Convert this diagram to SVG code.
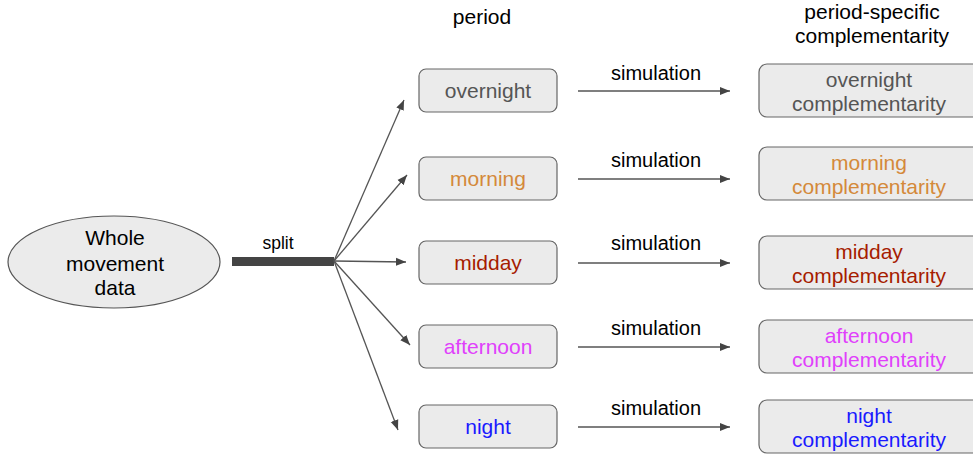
<svg xmlns="http://www.w3.org/2000/svg" width="973" height="455" viewBox="0 0 973 455">
<defs>
<marker id="ah" viewBox="0 0 10 10" refX="10" refY="5" markerWidth="10" markerHeight="10" markerUnits="userSpaceOnUse" orient="auto">
<path d="M0,1 L10,5 L0,9 z" fill="#444"/>
</marker>
<style>
text{font-family:"Liberation Sans",Arial,sans-serif;text-anchor:middle;}
.box{fill:#ebebeb;stroke:#666;stroke-width:1.2;}
.lbl{font-size:21px;}
.hdr{font-size:21px;fill:#000;}
.sim{font-size:20px;fill:#000;}
.con{stroke:#555;stroke-width:1.3;fill:none;marker-end:url(#ah);}
</style>
</defs>
<rect width="973" height="455" fill="#fff"/>
<text class="hdr" x="482" y="24">period</text>
<text class="hdr" x="872" y="19">period-specific</text>
<text class="hdr" x="872" y="43">complementarity</text>
<g id="whole">
<ellipse cx="114" cy="262" rx="106" ry="46" fill="#ebebeb" stroke="#555" stroke-width="1.2"/>
<text class="lbl" x="115" y="245">Whole</text>
<text class="lbl" x="115" y="271">movement</text>
<text class="lbl" x="115" y="295">data</text>
</g>
<g id="split">
<rect x="232" y="257" width="102" height="9" fill="#444"/>
<text x="278" y="249" font-size="17.5" fill="#000">split</text>
</g>
<g id="connectors">
<line class="con" x1="334" y1="261" x2="404" y2="100"/>
<line class="con" x1="334" y1="261" x2="407" y2="175"/>
<line class="con" x1="334" y1="261" x2="406" y2="262"/>
<line class="con" x1="334" y1="261" x2="410" y2="345"/>
<line class="con" x1="334" y1="261" x2="398" y2="430"/>
<line class="con" x1="578" y1="91" x2="730" y2="91"/>
<line class="con" x1="578" y1="179" x2="730" y2="179"/>
<line class="con" x1="578" y1="263" x2="730" y2="263"/>
<line class="con" x1="578" y1="347" x2="730" y2="347"/>
<line class="con" x1="578" y1="427" x2="730" y2="427"/>
<text class="sim" x="656" y="80">simulation</text>
<text class="sim" x="656" y="167">simulation</text>
<text class="sim" x="656" y="250">simulation</text>
<text class="sim" x="656" y="335">simulation</text>
<text class="sim" x="656" y="415">simulation</text>
</g>
<g id="overnight">
<rect class="box" x="419" y="69" width="138" height="43" rx="7"/>
<text class="lbl" x="488" y="98" fill="#555">overnight</text>
</g>
<g id="morning">
<rect class="box" x="419" y="157" width="138" height="43" rx="7"/>
<text class="lbl" x="488" y="186" fill="#d4893a">morning</text>
</g>
<g id="midday">
<rect class="box" x="419" y="241" width="138" height="43" rx="7"/>
<text class="lbl" x="488" y="270" fill="#a61c00">midday</text>
</g>
<g id="afternoon">
<rect class="box" x="419" y="325" width="138" height="43" rx="7"/>
<text class="lbl" x="488" y="354" fill="#e040fb">afternoon</text>
</g>
<g id="night">
<rect class="box" x="419" y="405" width="138" height="43" rx="7"/>
<text class="lbl" x="488" y="434" fill="#1a1aff">night</text>
</g>
<g id="overnight-comp">
<rect class="box" x="759" y="64" width="230" height="53" rx="8"/>
<text class="lbl" x="869" y="87" fill="#555">overnight</text>
<text class="lbl" x="869" y="111" fill="#555">complementarity</text>
</g>
<g id="morning-comp">
<rect class="box" x="759" y="147" width="230" height="53" rx="8"/>
<text class="lbl" x="869" y="170" fill="#d4893a">morning</text>
<text class="lbl" x="869" y="194" fill="#d4893a">complementarity</text>
</g>
<g id="midday-comp">
<rect class="box" x="759" y="236" width="230" height="53" rx="8"/>
<text class="lbl" x="869" y="259" fill="#a61c00">midday</text>
<text class="lbl" x="869" y="283" fill="#a61c00">complementarity</text>
</g>
<g id="afternoon-comp">
<rect class="box" x="759" y="320" width="230" height="53" rx="8"/>
<text class="lbl" x="869" y="343" fill="#e040fb">afternoon</text>
<text class="lbl" x="869" y="367" fill="#e040fb">complementarity</text>
</g>
<g id="night-comp">
<rect class="box" x="759" y="400" width="230" height="53" rx="8"/>
<text class="lbl" x="869" y="423" fill="#1a1aff">night</text>
<text class="lbl" x="869" y="447" fill="#1a1aff">complementarity</text>
</g>
</svg>
